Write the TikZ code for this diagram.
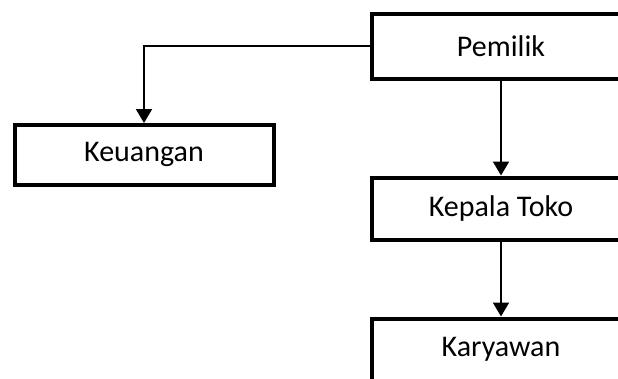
\documentclass[tikz,border=0pt]{standalone}
\usepackage{fontspec}
\setmainfont{Carlito}
\usetikzlibrary{arrows.meta}
\begin{document}
\begin{tikzpicture}[x=1pt,y=-1pt,
  orgbox/.style={draw=black, line width=4pt, fill=white, rectangle,
    minimum width=258pt, inner sep=0pt, font=\fontsize{30}{34}\selectfont},
  link/.style={draw=black, line width=2pt,
    -{Triangle[width=16pt,length=14pt]}}]
\useasboundingbox (0,0) rectangle (618,378);
\clip (0,0) rectangle (618,378);
\node[orgbox, minimum height=64.5pt] (pem) at (501,46.25) {Pemilik};
\node[orgbox, minimum width=259pt, minimum height=59.5pt] (keu) at (144,154.75) {Keuangan};
\node[orgbox, minimum height=62pt] (kep) at (501,208.5) {Kepala Toko};
\node[orgbox, minimum height=62pt] (kar) at (501,349.5) {Karyawan};
\draw[link] (pem.west) -| (keu.north);
\draw[link] (pem.south) -- (kep.north);
\draw[link] (kep.south) -- (kar.north);
\end{tikzpicture}
\end{document}
